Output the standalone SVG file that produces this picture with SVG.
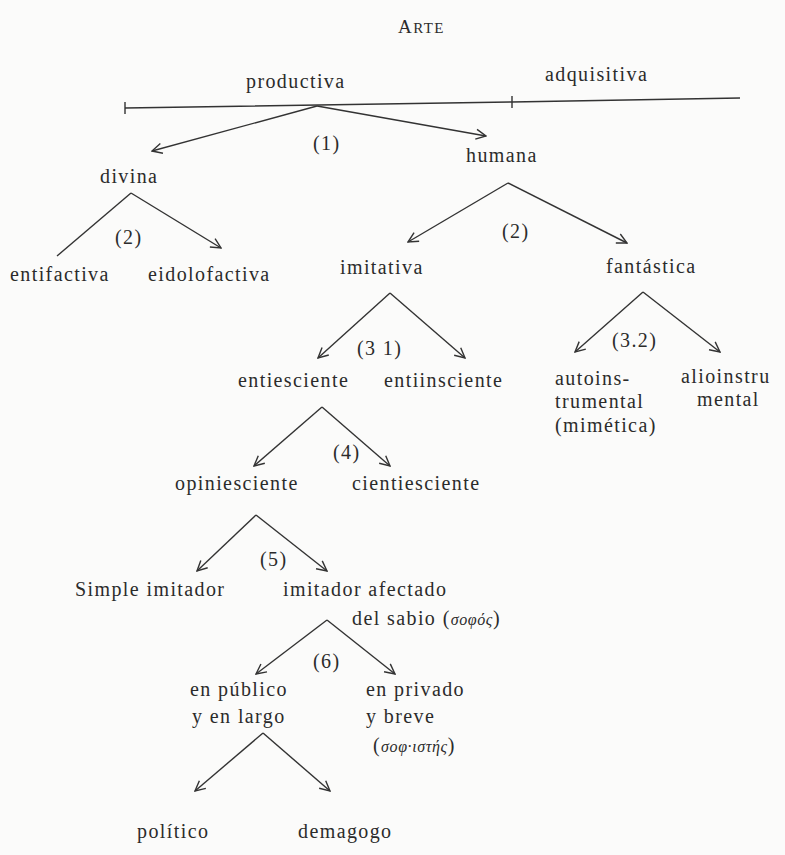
<svg xmlns="http://www.w3.org/2000/svg" width="785" height="855" viewBox="0 0 785 855">
<defs>
<style>
.t{font-family:"Liberation Serif","DejaVu Serif",serif;font-size:20px;letter-spacing:1.4px;fill:#2b2b2b}
.g{font-style:italic;font-size:16px;letter-spacing:0.6px}
.c{stroke:#333;stroke-width:1.4;fill:none}
</style>
<marker id="ah" viewBox="0 0 12 12" refX="11" refY="6" markerWidth="12" markerHeight="12" markerUnits="userSpaceOnUse" orient="auto">
<path d="M1,1 L11,6 L1,11" fill="none" stroke="#333" stroke-width="1.4"/>
</marker>
</defs>
<rect width="785" height="855" fill="#fbfbfa"/>
<g id="connectors">
<path class="c" d="M125,108 L512,102 L740,98"/>
<path class="c" d="M125,102 V114 M512,96 V108"/>
<path class="c" d="M317,106 L152,151" marker-end="url(#ah)"/>
<path class="c" d="M317,106 L486,136" marker-end="url(#ah)"/>
<path class="c" d="M131,193 L57,256"/>
<path class="c" d="M131,193 L221,248" marker-end="url(#ah)"/>
<path class="c" d="M508,183 L408,242" marker-end="url(#ah)"/>
<path class="c" d="M508,183 L627,243" marker-end="url(#ah)"/>
<path class="c" d="M390,293 L318,358" marker-end="url(#ah)"/>
<path class="c" d="M390,293 L465,358" marker-end="url(#ah)"/>
<path class="c" d="M643,292 L575,352" marker-end="url(#ah)"/>
<path class="c" d="M643,292 L720,352" marker-end="url(#ah)"/>
<path class="c" d="M322,407 L254,466" marker-end="url(#ah)"/>
<path class="c" d="M322,407 L390,466" marker-end="url(#ah)"/>
<path class="c" d="M256,515 L197,571" marker-end="url(#ah)"/>
<path class="c" d="M256,515 L327,571" marker-end="url(#ah)"/>
<path class="c" d="M327,620 L256,674" marker-end="url(#ah)"/>
<path class="c" d="M327,620 L395,674" marker-end="url(#ah)"/>
<path class="c" d="M263,733 L195,791" marker-end="url(#ah)"/>
<path class="c" d="M263,733 L330,791" marker-end="url(#ah)"/>
</g>
<g id="labels" class="t">
<text x="313" y="150">(1)</text>
<text x="115" y="244">(2)</text>
<text x="502" y="238">(2)</text>
<text x="357" y="355">(3 1)</text>
<text x="612" y="347">(3.2)</text>
<text x="333" y="459">(4)</text>
<text x="260" y="566">(5)</text>
<text x="313" y="668">(6)</text>
</g>
<g id="arte"><text class="t" x="398" y="33"><tspan font-size="19">A</tspan><tspan font-size="15">RTE</tspan></text></g>
<g id="productiva"><text class="t" x="246" y="88">productiva</text></g>
<g id="adquisitiva"><text class="t" x="545" y="81">adquisitiva</text></g>
<g id="divina"><text class="t" x="100" y="183">divina</text></g>
<g id="humana"><text class="t" x="466" y="162">humana</text></g>
<g id="entifactiva"><text class="t" x="10" y="281">entifactiva</text></g>
<g id="eidolofactiva"><text class="t" x="148" y="281">eidolofactiva</text></g>
<g id="imitativa"><text class="t" x="340" y="274">imitativa</text></g>
<g id="fantastica"><text class="t" x="606" y="273">fantástica</text></g>
<g id="entiesciente"><text class="t" x="238" y="387">entiesciente</text></g>
<g id="entiinsciente"><text class="t" x="384" y="387">entiinsciente</text></g>
<g id="autoinstrumental" class="t">
<text x="555" y="385">autoins-</text>
<text x="555" y="408">trumental</text>
<text x="555" y="432">(mimética)</text>
</g>
<g id="alioinstrumental" class="t">
<text x="681" y="383">alioinstru</text>
<text x="697" y="406">mental</text>
</g>
<g id="opiniesciente"><text class="t" x="175" y="490">opiniesciente</text></g>
<g id="cientiesciente"><text class="t" x="352" y="490">cientiesciente</text></g>
<g id="simple"><text class="t" x="75" y="596">Simple imitador</text></g>
<g id="afectado" class="t">
<text x="283" y="596">imitador afectado</text>
<text x="352" y="625">del sabio (<tspan class="g">σοφός</tspan>)</text>
</g>
<g id="publico" class="t">
<text x="190" y="696">en público</text>
<text x="192" y="723">y en largo</text>
</g>
<g id="privado" class="t">
<text x="366" y="696">en privado</text>
<text x="366" y="723">y breve</text>
<text x="373" y="752">(<tspan class="g">σοφ·ιστής</tspan>)</text>
</g>
<g id="politico"><text class="t" x="137" y="838">político</text></g>
<g id="demagogo"><text class="t" x="298" y="838">demagogo</text></g>
</svg>
